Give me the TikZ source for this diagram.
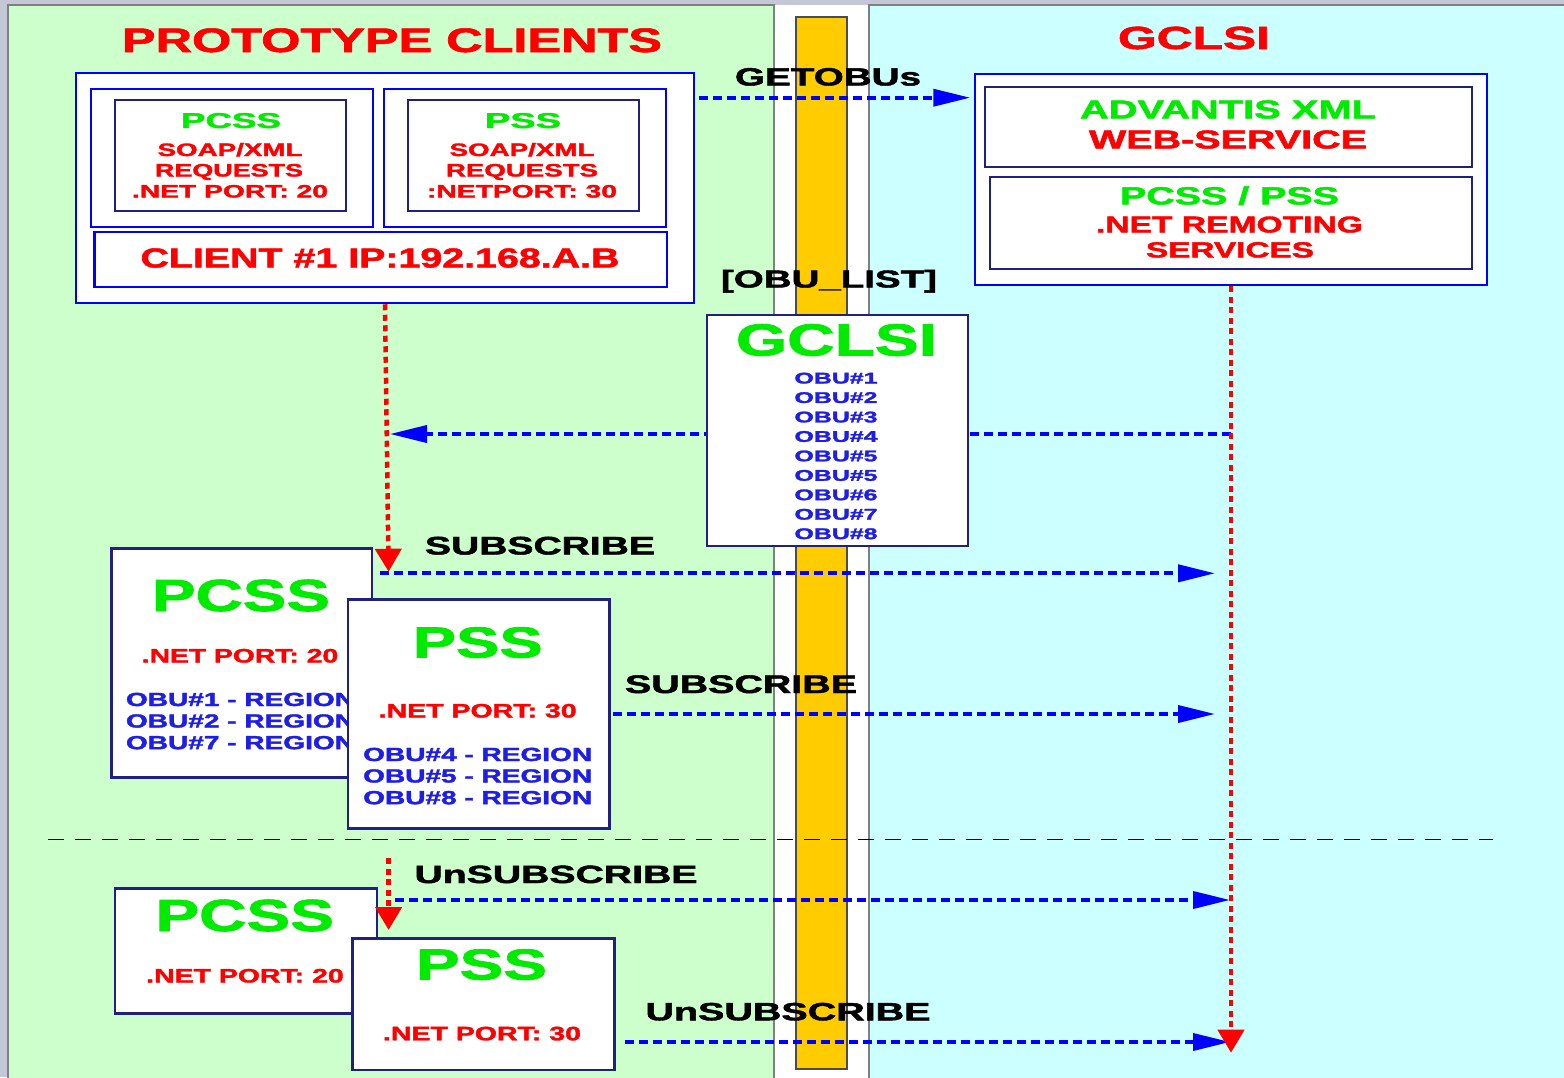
\documentclass[tikz,border=0pt]{standalone}
\usepackage{fontspec}
\setmainfont{Liberation Sans}[BoldFeatures={FakeBold=1.6}]
\usepackage{graphicx}
\usetikzlibrary{arrows.meta}

\definecolor{bgGrey}{RGB}{196,200,214}
\definecolor{panelGreen}{RGB}{204,255,204}
\definecolor{panelCyan}{RGB}{204,255,255}
\definecolor{panelEdge}{RGB}{128,128,128}
\definecolor{barGold}{RGB}{255,204,0}
\definecolor{boxBlue}{RGB}{0,0,255}
\definecolor{boxNavy}{RGB}{32,32,128}
\definecolor{txtGreen}{RGB}{0,235,0}
\definecolor{txtRed}{RGB}{255,0,0}
\definecolor{txtBlue}{RGB}{30,30,230}
\definecolor{msgBlue}{RGB}{0,0,255}
\definecolor{lifeRed}{RGB}{255,0,0}

% bold text squeezed/stretched to a given width at a given size
\newcommand\fitw[3]{\resizebox{#1pt}{\height}{\fontsize{#2pt}{#2pt}\selectfont\bfseries #3}}

\tikzset{
  bluebox/.style={draw=boxBlue, line width=2.5pt, fill=white, inner sep=0pt},
  navybox/.style={draw=boxNavy, line width=2.5pt, fill=white, inner sep=0pt},
  lbl/.style={anchor=base, inner sep=0pt, outer sep=0pt},
  lblw/.style={anchor=base west, inner sep=0pt, outer sep=0pt},
  msg/.style={draw=msgBlue, line width=3.8pt, dash pattern=on 9pt off 5pt,
    -{Triangle[length=37pt,width=17pt]}},
  life/.style={draw=lifeRed, line width=4.5pt, dash pattern=on 6pt off 4.5pt,
    -{Triangle[length=23pt,width=26pt]}},
}

\begin{document}
\begin{tikzpicture}[x=1pt,y=-1pt]
\clip (0,0) rectangle (1564,1077);
\fill[bgGrey] (0,0) rectangle (1564,1077);

% swim lanes and the central bar
\fill[white] (770,5) rectangle (872,1080);
\filldraw[fill=panelGreen, draw=panelEdge, line width=2pt] (8,5) rectangle (774,1085);
\filldraw[fill=panelCyan, draw=panelEdge, line width=2pt] (869,5) rectangle (1570,1085);
\filldraw[fill=barGold, draw=black!70, line width=1.5pt] (796,17) rectangle (847,1069);

% separator between subscribe and unsubscribe phases
\coordinate (divL) at (48,839.3);
\coordinate (divR) at (1492.5,839.3);
\draw[black, line width=1.5pt, dash pattern=on 16pt off 11pt] (divL) -- (divR);

% lane titles
\node[lbl, text=txtRed] (ttlL) at (392,52) {\fitw{540}{34}{PROTOTYPE CLIENTS}};
\node[lbl, text=txtRed] (ttlR) at (1194,49) {\fitw{152}{32}{GCLSI}};

% client block
\node[bluebox, minimum width=618pt, minimum height=230pt] (cliout) at (385,188) {};
\node[bluebox, minimum width=282pt, minimum height=138pt] (clil) at (232,158) {};
\node[navybox, minimum width=231pt, minimum height=111pt] (clilin) at (230.5,155.5) {};
\node[bluebox, minimum width=282pt, minimum height=138pt] (clir) at (525,158) {};
\node[navybox, minimum width=231pt, minimum height=111pt] (clirin) at (523.5,155.5) {};
\node[bluebox, minimum width=572.5pt, minimum height=55pt] (cliip) at (380.75,259.5) {};

\node[lbl, text=txtGreen] (cA1) at (231,128) {\fitw{100}{21.5}{PCSS}};
\node[lbl, text=txtRed] (cA2) at (230,156) {\fitw{145}{18}{SOAP/XML}};
\node[lbl, text=txtRed] (cA3) at (229,176.5) {\fitw{148}{18}{REQUESTS}};
\node[lbl, text=txtRed] (cA4) at (230,197.5) {\fitw{196}{18}{.NET PORT: 20}};
\node[lbl, text=txtGreen] (cB1) at (523,128) {\fitw{76}{21.5}{PSS}};
\node[lbl, text=txtRed] (cB2) at (522,156) {\fitw{145}{18}{SOAP/XML}};
\node[lbl, text=txtRed] (cB3) at (522,176.5) {\fitw{152}{18}{REQUESTS}};
\node[lbl, text=txtRed] (cB4) at (522,197.5) {\fitw{190}{18}{:NETPORT: 30}};
\node[lbl, text=txtRed] (cIP) at (380,267.5) {\fitw{479}{27.5}{CLIENT \#1 IP:192.168.A.B}};

% server block
\node[bluebox, minimum width=512pt, minimum height=211pt] (gout) at (1231,179.5) {};
\node[navybox, minimum width=487pt, minimum height=80pt] (gin1) at (1228.5,127) {};
\node[navybox, minimum width=482pt, minimum height=92pt] (gin2) at (1231,223) {};
\node[lbl, text=txtGreen] (g1) at (1228,118.5) {\fitw{296}{26}{ADVANTIS XML}};
\node[lbl, text=txtRed] (g2) at (1228,148.5) {\fitw{278}{26}{WEB-SERVICE}};
\node[lbl, text=txtGreen] (g3) at (1229.5,204.5) {\fitw{219}{25}{PCSS / PSS}};
\node[lbl, text=txtRed] (g4) at (1229.5,232.5) {\fitw{267}{23}{.NET REMOTING}};
\node[lbl, text=txtRed] (g5) at (1230,257.5) {\fitw{168}{22}{SERVICES}};

% request for the OBU list
\node[lbl] (getlbl) at (828,85.5) {\fitw{186}{25}{GETOBUs}};
\node[lbl] (listlbl) at (829,287.5) {\fitw{216}{24.5}{[OBU\_LIST]}};
\coordinate (getY) at (0,97.7);
\draw[msg, shorten <=4pt, shorten >=3.5pt] (cliout.east |- getY) -- (gout.west |- getY);

% OBU list returned to the client
\coordinate (listEnd) at (390,434);
\draw[msg] (gout.south |- listEnd) -- (listEnd);

\node[navybox, minimum width=261pt, minimum height=231pt] (gbox) at (837.5,430.5) {};
\node[lbl, text=txtGreen] (gboxT) at (836.5,355.5) {\fitw{201}{45}{GCLSI}};
\foreach \t [count=\i from 0] in {1,2,3,4,5,5,6,7,8}
  \node[lbl, text=txtBlue] (obu\i) at (836,383.5+19.45*\i) {\fitw{83}{15.5}{OBU\#\t}};

% subscribe phase
\node[navybox, minimum width=260.6pt, minimum height=229.4pt] (pcss1) at (241.7,663) {};
\node[lbl, text=txtGreen] (p1a) at (241,611) {\fitw{178}{45}{PCSS}};
\node[lbl, text=txtRed] (p1b) at (240,662.5) {\fitw{196.5}{19.5}{.NET PORT: 20}};
\node[lblw, text=txtBlue] (p1c) at (126,706) {\fitw{229}{19}{OBU\#1 - REGION}};
\node[lblw, text=txtBlue] (p1d) at (126,727.5) {\fitw{229}{19}{OBU\#2 - REGION}};
\node[lblw, text=txtBlue] (p1e) at (126,749.2) {\fitw{229}{19}{OBU\#7 - REGION}};

\node[navybox, minimum width=261.4pt, minimum height=229.4pt] (pss1) at (478.9,714) {};
\node[lbl, text=txtGreen] (s1a) at (477.7,657.5) {\fitw{130}{43.5}{PSS}};
\node[lbl, text=txtRed] (s1b) at (477.7,717.5) {\fitw{198}{19.5}{.NET PORT: 30}};
\node[lblw, text=txtBlue] (s1c) at (363.2,761) {\fitw{229}{19}{OBU\#4 - REGION}};
\node[lblw, text=txtBlue] (s1d) at (363.2,782.5) {\fitw{229}{19}{OBU\#5 - REGION}};
\node[lblw, text=txtBlue] (s1e) at (363.2,804.2) {\fitw{229}{19}{OBU\#8 - REGION}};

\node[lbl] (sublbl1) at (540,554.5) {\fitw{230}{25.5}{SUBSCRIBE}};
\node[lbl] (sublbl2) at (741,693) {\fitw{232}{25.5}{SUBSCRIBE}};
\coordinate (sub1B) at (1215,573.3);
\coordinate (sub2B) at (1215,714);
\draw[msg, shorten <=6.6pt] (pcss1.east |- sub1B) -- (sub1B);
\draw[msg, shorten <=2pt] (pss1.east |- sub2B) -- (sub2B);

% unsubscribe phase
\node[navybox, minimum width=261.8pt, minimum height=125pt] (pcss2) at (245.9,950.8) {};
\node[lbl, text=txtGreen] (p2a) at (244.7,931) {\fitw{178.6}{45}{PCSS}};
\node[lbl, text=txtRed] (p2b) at (245,982.5) {\fitw{197.5}{19.5}{.NET PORT: 20}};
\node[navybox, minimum width=261.8pt, minimum height=131.3pt] (pss2) at (483.4,1004.35) {};
\node[lbl, text=txtGreen] (s2a) at (481.5,979.5) {\fitw{131}{43.5}{PSS}};
\node[lbl, text=txtRed] (s2b) at (482,1040.3) {\fitw{198}{19.5}{.NET PORT: 30}};

\node[lbl] (unslbl1) at (556,883) {\fitw{283}{25}{UnSUBSCRIBE}};
\node[lbl] (unslbl2) at (788,1020.3) {\fitw{285}{25}{UnSUBSCRIBE}};
\coordinate (uns1B) at (1230,900);
\coordinate (uns2B) at (1230,1042);
\draw[msg, shorten <=16.8pt] (pcss2.east |- uns1B) -- (uns1B);
\draw[msg, shorten <=9pt] (pss2.east |- uns2B) -- (uns2B);

% lifelines
\coordinate (lEnd1) at (388.6,571.7);
\coordinate (lStart2) at (388.6,858.3);
\coordinate (lEnd2) at (388.6,930);
\coordinate (rEnd) at (1231,1052.7);
\draw[life] (cliout.south) -- (lEnd1);
\draw[life] (lStart2) -- (lEnd2);
\draw[life] (gout.south) -- (rEnd);
\end{tikzpicture}
\end{document}
